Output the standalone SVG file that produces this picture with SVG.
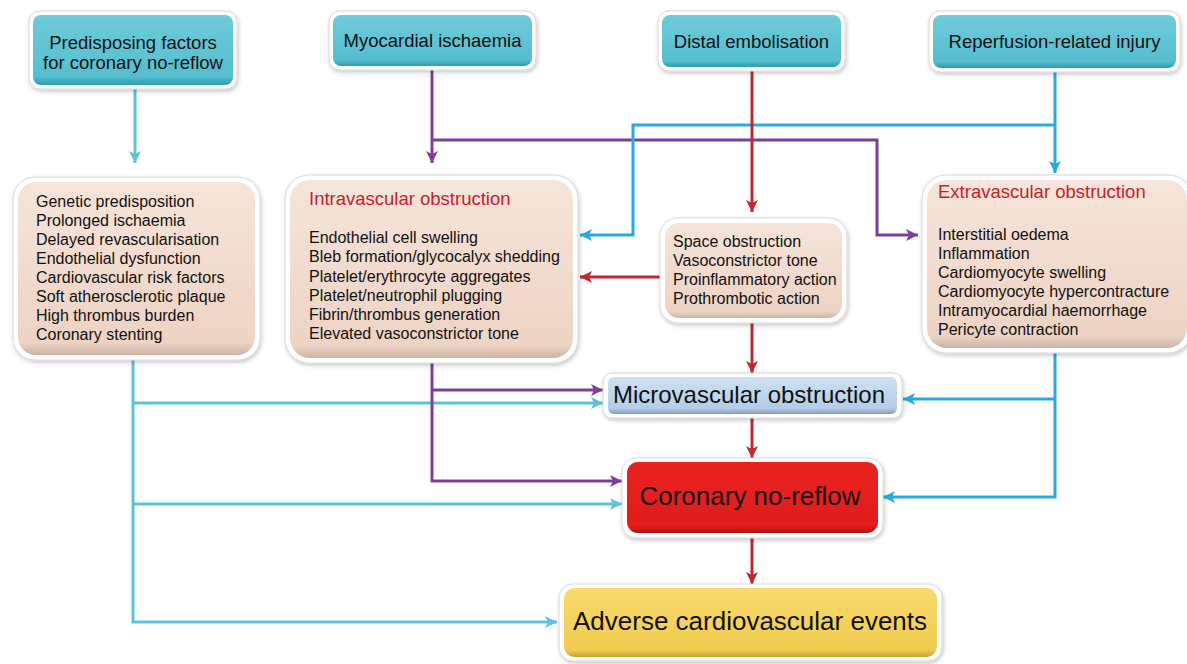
<svg xmlns="http://www.w3.org/2000/svg" width="1187" height="664" viewBox="0 0 1187 664">
<defs>
<style>
text{font-family:"Liberation Sans",Arial,Helvetica,sans-serif;fill:#111;}
.top{font-size:18.5px;text-anchor:middle;}
.body{font-size:16px;}
.ttl{font-size:18.5px;fill:#C8202A;}
.big{font-size:24px;text-anchor:middle;}
.big2{font-size:26px;text-anchor:middle;}
.frame{fill:#fff;stroke:#d8d8d8;stroke-width:1;filter:url(#sh);}
.c{fill:none;stroke-width:3;}
.teal{stroke:#5EC3D8;}
.pur{stroke:#7E3F98;}
.red{stroke:#C1272D;}
.blue{stroke:#29A9E1;}
</style>
<filter id="sh" x="-10%" y="-10%" width="120%" height="130%">
<feDropShadow dx="1" dy="2" stdDeviation="2" flood-color="#000" flood-opacity="0.22"/>
</filter>
<linearGradient id="gTeal" x1="0" y1="0" x2="0" y2="1">
<stop offset="0" stop-color="#6FCBD9"/><stop offset="0.88" stop-color="#55BECF"/><stop offset="1" stop-color="#2C9CAE"/>
</linearGradient>
<linearGradient id="gBeige" x1="0" y1="0" x2="0" y2="1">
<stop offset="0" stop-color="#F6E5DA"/><stop offset="0.93" stop-color="#EDD3C4"/><stop offset="1" stop-color="#CDB3A5"/>
</linearGradient>
<linearGradient id="gBlue" x1="0" y1="0" x2="0" y2="1">
<stop offset="0" stop-color="#CFE1F3"/><stop offset="0.85" stop-color="#B3CDE8"/><stop offset="1" stop-color="#7F9CBB"/>
</linearGradient>
<linearGradient id="gRed" x1="0" y1="0" x2="0" y2="1">
<stop offset="0" stop-color="#E9231F"/><stop offset="0.9" stop-color="#E01C1C"/><stop offset="1" stop-color="#B01515"/>
</linearGradient>
<linearGradient id="gYel" x1="0" y1="0" x2="0" y2="1">
<stop offset="0" stop-color="#F8DB6C"/><stop offset="0.9" stop-color="#F1CB4E"/><stop offset="1" stop-color="#C7A03A"/>
</linearGradient>
<marker id="aTeal" markerUnits="userSpaceOnUse" markerWidth="13" markerHeight="12" refX="12" refY="6" orient="auto"><path d="M0,0 L12,6 L0,12 L3,6 z" fill="#5EC3D8"/></marker>
<marker id="aPur" markerUnits="userSpaceOnUse" markerWidth="13" markerHeight="12" refX="12" refY="6" orient="auto"><path d="M0,0 L12,6 L0,12 L3,6 z" fill="#7E3F98"/></marker>
<marker id="aRed" markerUnits="userSpaceOnUse" markerWidth="13" markerHeight="12" refX="12" refY="6" orient="auto"><path d="M0,0 L12,6 L0,12 L3,6 z" fill="#C1272D"/></marker>
<marker id="aBlue" markerUnits="userSpaceOnUse" markerWidth="13" markerHeight="12" refX="12" refY="6" orient="auto"><path d="M0,0 L12,6 L0,12 L3,6 z" fill="#29A9E1"/></marker>
</defs>
<rect width="1187" height="664" fill="#fff"/>

<g id="connectors">
<path class="c teal" d="M135 88 V163" marker-end="url(#aTeal)"/>
<path class="c teal" d="M133 360 V622 H557" marker-end="url(#aTeal)"/>
<path class="c teal" d="M133 403 H603" marker-end="url(#aTeal)"/>
<path class="c teal" d="M133 504 H622" marker-end="url(#aTeal)"/>
<path class="c pur" d="M432 67 V163" marker-end="url(#aPur)"/>
<path class="c pur" d="M432 140 H877 V235 H918" marker-end="url(#aPur)"/>
<path class="c pur" d="M432 363 V481 H622" marker-end="url(#aPur)"/>
<path class="c pur" d="M432 390 H603" marker-end="url(#aPur)"/>
<path class="c blue" d="M1055 68 V173" marker-end="url(#aBlue)"/>
<path class="c blue" d="M1055 125 H633 V235 H580" marker-end="url(#aBlue)"/>
<path class="c blue" d="M1055 353 V497 H883" marker-end="url(#aBlue)"/>
<path class="c blue" d="M1055 399 H903" marker-end="url(#aBlue)"/>
<path class="c red" d="M752 67 V212" marker-end="url(#aRed)"/>
<path class="c red" d="M660 277 H580" marker-end="url(#aRed)"/>
<path class="c red" d="M752 323 V373" marker-end="url(#aRed)"/>
<path class="c red" d="M752 418 V458" marker-end="url(#aRed)"/>
<path class="c red" d="M752 538 V584" marker-end="url(#aRed)"/>
</g>

<g id="predisposing">
<rect class="frame" x="29" y="11" width="208" height="78" rx="11"/>
<rect x="33" y="15" width="200" height="70" rx="8" fill="url(#gTeal)"/>
<text class="top" x="133" y="48.5">Predisposing factors</text>
<text class="top" x="133" y="68.5">for coronary no-reflow</text>
</g>
<g id="ischaemia">
<rect class="frame" x="329" y="11" width="207" height="59" rx="11"/>
<rect x="333" y="15" width="199" height="51" rx="8" fill="url(#gTeal)"/>
<text class="top" x="432.5" y="47">Myocardial ischaemia</text>
</g>
<g id="embolisation">
<rect class="frame" x="658" y="11" width="187" height="60" rx="11"/>
<rect x="662" y="15" width="179" height="52" rx="8" fill="url(#gTeal)"/>
<text class="top" x="751.5" y="47.5">Distal embolisation</text>
</g>
<g id="reperfusion">
<rect class="frame" x="929" y="11" width="251" height="61" rx="11"/>
<rect x="933" y="15" width="243" height="53" rx="8" fill="url(#gTeal)"/>
<text class="top" x="1054.5" y="48">Reperfusion-related injury</text>
</g>

<g id="factors">
<rect class="frame" x="13" y="177" width="247" height="183" rx="22"/>
<rect x="18" y="182" width="237" height="173" rx="18" fill="url(#gBeige)"/>
<text class="body" x="36" y="207">Genetic predisposition</text>
<text class="body" x="36" y="226">Prolonged ischaemia</text>
<text class="body" x="36" y="245">Delayed revascularisation</text>
<text class="body" x="36" y="264">Endothelial dysfunction</text>
<text class="body" x="36" y="283">Cardiovascular risk factors</text>
<text class="body" x="36" y="302">Soft atherosclerotic plaque</text>
<text class="body" x="36" y="321">High thrombus burden</text>
<text class="body" x="36" y="340">Coronary stenting</text>
</g>
<g id="intravascular">
<rect class="frame" x="285" y="175" width="293" height="188" rx="24"/>
<rect x="290" y="180" width="283" height="178" rx="20" fill="url(#gBeige)"/>
<text class="ttl" x="309" y="205">Intravascular obstruction</text>
<text class="body" x="309" y="243">Endothelial cell swelling</text>
<text class="body" x="309" y="262">Bleb formation/glycocalyx shedding</text>
<text class="body" x="309" y="282">Platelet/erythrocyte aggregates</text>
<text class="body" x="309" y="301">Platelet/neutrophil plugging</text>
<text class="body" x="309" y="320">Fibrin/thrombus generation</text>
<text class="body" x="309" y="339">Elevated vasoconstrictor tone</text>
</g>
<g id="embolic-effects">
<rect class="frame" x="660" y="218" width="187" height="105" rx="18"/>
<rect x="665" y="223" width="177" height="95" rx="14" fill="url(#gBeige)"/>
<text class="body" x="673" y="247">Space obstruction</text>
<text class="body" x="673" y="266">Vasoconstrictor tone</text>
<text class="body" x="673" y="285">Proinflammatory action</text>
<text class="body" x="673" y="304">Prothrombotic action</text>
</g>
<g id="extravascular">
<rect class="frame" x="922" y="175" width="270" height="178" rx="24"/>
<rect x="927" y="180" width="260" height="168" rx="20" fill="url(#gBeige)"/>
<text class="ttl" x="938" y="198">Extravascular obstruction</text>
<text class="body" x="938" y="240">Interstitial oedema</text>
<text class="body" x="938" y="259">Inflammation</text>
<text class="body" x="938" y="278">Cardiomyocyte swelling</text>
<text class="body" x="938" y="297">Cardiomyocyte hypercontracture</text>
<text class="body" x="938" y="316">Intramyocardial haemorrhage</text>
<text class="body" x="938" y="335">Pericyte contraction</text>
</g>

<g id="microvascular">
<rect class="frame" x="603" y="373" width="299" height="45" rx="9"/>
<rect x="608" y="377" width="289" height="37" rx="6" fill="url(#gBlue)"/>
<text class="big" x="749" y="403">Microvascular obstruction</text>
</g>
<g id="noreflow">
<rect class="frame" x="622" y="458" width="261" height="80" rx="14"/>
<rect x="627" y="462" width="251" height="71" rx="11" fill="url(#gRed)"/>
<text class="big2" x="750" y="505">Coronary no-reflow</text>
</g>
<g id="adverse">
<rect class="frame" x="559" y="584" width="383" height="77" rx="14"/>
<rect x="564" y="588" width="373" height="69" rx="11" fill="url(#gYel)"/>
<text class="big2" x="750" y="630">Adverse cardiovascular events</text>
</g>
</svg>
